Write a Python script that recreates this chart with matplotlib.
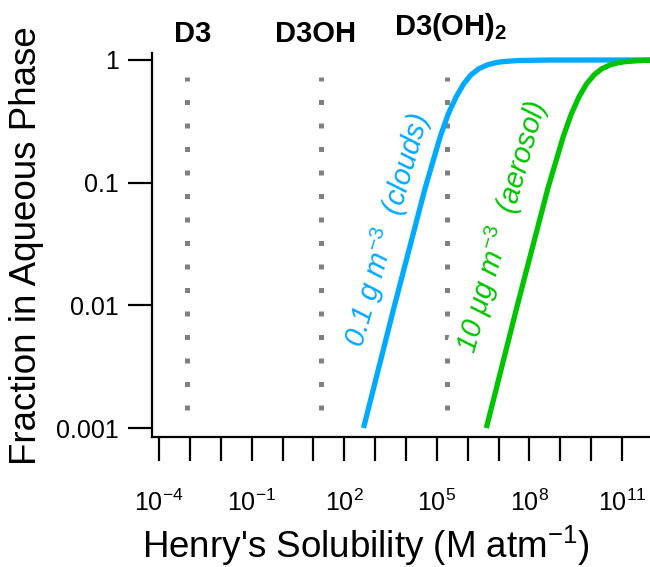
import numpy as np
import matplotlib
matplotlib.use('Agg')
import matplotlib.pyplot as plt
from matplotlib.ticker import FixedLocator, FuncFormatter, NullLocator

plt.rcParams['font.family'] = ['Liberation Sans', 'DejaVu Sans']
plt.rcParams['mathtext.fontset'] = 'custom'
plt.rcParams['mathtext.rm'] = 'Liberation Sans'
plt.rcParams['mathtext.it'] = 'Liberation Sans:italic'
plt.rcParams['mathtext.bf'] = 'Liberation Sans:bold'

# Henry's solubility (M/atm) vs fraction in aqueous phase
cloud_H = [4.2e2, 4.2e3, 4.2e4, 1.3e5, 2.3e5, 4.2e5, 7.4e5, 1.3e6, 2.3e6,
           4.2e6, 7.4e6, 1.3e7, 4.2e7, 4.2e8, 8.1e11]
cloud_frac = [0.001, 0.0099, 0.091, 0.24, 0.36, 0.50, 0.64, 0.76, 0.85,
              0.91, 0.947, 0.969, 0.990, 0.999, 1.0]
aerosol_H = [4.0e6, 4.0e7, 4.0e8, 1.26e9, 2.24e9, 4.0e9, 7.1e9, 1.26e10,
             2.24e10, 4.0e10, 7.1e10, 1.26e11, 4.0e11, 8.1e11]
aerosol_frac = [0.001, 0.0099, 0.091, 0.24, 0.36, 0.50, 0.64, 0.76,
                0.85, 0.91, 0.947, 0.969, 0.990, 0.996]

species = ['D3', 'D3OH', r'$\mathbf{D3(OH)_{2}}$']
species_H = [7.9e-4, 17.0, 2.2e5]
dotted_range = [0.0014, 0.72]

xtick_exp = list(range(-4, 12))
ytick_vals = [0.001, 0.01, 0.1, 1]
ytick_labels = ['0.001', '0.01', '0.1', '1']

W, H = 650, 567
fig = plt.figure(figsize=(6.5, 5.67), dpi=100)
ax = fig.add_axes([152 / W, 130 / H, 498 / W, 384 / H])
ax.set_xscale('log')
ax.set_yscale('log')
ax.set_xlim(10 ** -4.23, 10 ** 11.905)
ax.set_ylim(10 ** -3.073, 10 ** 0.057)

for h in species_H:
    ax.plot([h, h], dotted_range, color='#808080', lw=3.6,
            dashes=(1, 3.7), dash_capstyle='butt', zorder=2)

ax.plot(cloud_H, cloud_frac, color='#00AAFF', lw=3.8, zorder=4,
        solid_capstyle='butt')
ax.plot(aerosol_H, aerosol_frac, color='#00C400', lw=3.8, zorder=4,
        solid_capstyle='butt')

ax.text(0.472, 0.539, '0.1 g m$^{-3}$  (clouds)', transform=ax.transAxes,
        rotation=74, rotation_mode='anchor', ha='center', va='center',
        color='#00AAFF', fontsize=21, style='italic', zorder=3)
ax.text(0.702, 0.547, '10 μg m$^{-3}$  (aerosol)', transform=ax.transAxes,
        rotation=74, rotation_mode='anchor', ha='center', va='center',
        color='#00C400', fontsize=21, style='italic', zorder=3,
        bbox=dict(facecolor='white', edgecolor='none', pad=2))

# species labels above the plot
label_x = [193, 316, 451]
label_y = [42, 42, 35]
for name, lx, ly in zip(species, label_x, label_y):
    fig.text(lx / W, 1 - ly / H, name, ha='center', va='baseline',
             fontsize=21, fontweight='bold')

for s in ['top', 'right']:
    ax.spines[s].set_visible(False)
for s in ['left', 'bottom']:
    ax.spines[s].set_linewidth(1.6)

ax.xaxis.set_major_locator(FixedLocator([10.0 ** e for e in xtick_exp]))
ax.xaxis.set_minor_locator(NullLocator())
ax.xaxis.set_major_formatter(FuncFormatter(
    lambda v, p: r'$\mathrm{10^{%d}}$' % round(np.log10(v))
    if (round(np.log10(v)) + 4) % 3 == 0 else ''))
ax.yaxis.set_major_locator(FixedLocator(ytick_vals))
ax.yaxis.set_minor_locator(NullLocator())
ax.set_yticklabels(ytick_labels)

ax.tick_params(axis='x', direction='out', length=17, width=1.6,
               labelsize=18, pad=21)
ax.tick_params(axis='y', direction='out', length=17, width=1.6,
               labelsize=18, pad=7)

fig.text(27 / W, 1 - 246 / H, 'Fraction in Aqueous Phase', rotation=90,
         ha='center', va='center', fontsize=26.5)
fig.text(366 / W, 1 - 558 / H, r"Henry's Solubility (M atm$^{\mathrm{-1}}$)",
         ha='center', va='baseline', fontsize=26.5)

fig.savefig('out.png', dpi=100)
